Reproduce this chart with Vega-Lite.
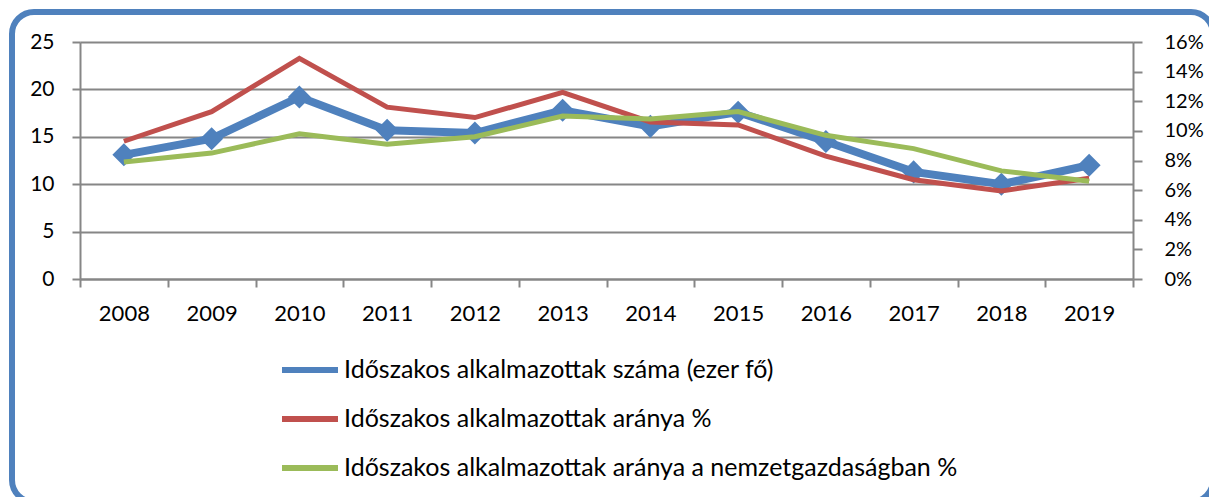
{
  "$schema": "https://vega.github.io/schema/vega-lite/v6.json",
  "width": 1201,
  "height": 490,
  "padding": {"left": 12, "top": 12, "right": 0, "bottom": 0},
  "autosize": {"type": "none"},
  "background": "white",
  "config": {
    "view": {"stroke": "#4F81BD", "strokeWidth": 6, "cornerRadius": 22, "fill": "white"},
    "font": "Lato",
    "axis": {
      "gridColor": "#868686", "gridWidth": 2, "gridOpacity": 1,
      "tickColor": "#868686", "tickWidth": 2,
      "domainColor": "#868686", "domainWidth": 2,
      "labelColor": "black", "labelFont": "Lato", "labelFontSize": 21,
      "title": null
    },
    "legend": {
      "orient": "none", "legendX": 267, "legendY": 327,
      "symbolType": "stroke", "symbolStrokeWidth": 6, "symbolSize": 3136,
      "labelFont": "Lato", "labelFontSize": 25, "labelColor": "black", "labelLimit": 0,
      "labelOffset": 3, "rowPadding": 5, "padding": 0, "title": null, "direction": "vertical"
    }
  },
  "data": {
    "values": [
      {"year": "2008", "szam": 13.1, "arany": 9.3, "nemzet": 7.9},
      {"year": "2009", "szam": 14.8, "arany": 11.3, "nemzet": 8.5},
      {"year": "2010", "szam": 19.2, "arany": 14.9, "nemzet": 9.8},
      {"year": "2011", "szam": 15.7, "arany": 11.6, "nemzet": 9.1},
      {"year": "2012", "szam": 15.4, "arany": 10.9, "nemzet": 9.6},
      {"year": "2013", "szam": 17.8, "arany": 12.6, "nemzet": 11.0},
      {"year": "2014", "szam": 16.1, "arany": 10.6, "nemzet": 10.8},
      {"year": "2015", "szam": 17.6, "arany": 10.4, "nemzet": 11.3},
      {"year": "2016", "szam": 14.5, "arany": 8.3, "nemzet": 9.7},
      {"year": "2017", "szam": 11.3, "arany": 6.7, "nemzet": 8.8},
      {"year": "2018", "szam": 10.0, "arany": 5.95, "nemzet": 7.3},
      {"year": "2019", "szam": 12.0, "arany": 6.8, "nemzet": 6.6}
    ]
  },
  "encoding": {
    "x": {
      "field": "year", "type": "ordinal",
      "scale": {"range": [68, 1121], "paddingInner": 0, "paddingOuter": 0},
      "axis": {"orient": "bottom", "offset": -223, "tickBand": "extent", "tickSize": 8, "labelAngle": 0, "labelPadding": 16, "labelFontSize": 22, "grid": false}
    }
  },
  "layer": [
    {
      "mark": {"type": "line", "strokeWidth": 8, "color": "#4F81BD"},
      "encoding": {
        "y": {"field": "szam", "type": "quantitative",
          "scale": {"domain": [0, 25], "range": [267, 30], "nice": false},
          "axis": {"orient": "left", "offset": -68, "values": [0, 5, 10, 15, 20, 25], "grid": true, "tickSize": 8, "labelPadding": 18}},
        "color": {"datum": "Időszakos alkalmazottak száma (ezer fő)", "type": "nominal",
          "scale": {"domain": ["Időszakos alkalmazottak száma (ezer fő)", "Időszakos alkalmazottak aránya %", "Időszakos alkalmazottak aránya a nemzetgazdaságban %"], "range": ["#4F81BD", "#C0504D", "#9BBB59"]}}
      }
    },
    {
      "mark": {"type": "point", "shape": "diamond", "filled": true, "size": 530, "opacity": 1, "color": "#4F81BD"},
      "encoding": {
        "y": {"field": "szam", "type": "quantitative",
          "scale": {"domain": [0, 25], "range": [267, 30], "nice": false}, "axis": null}
      }
    },
    {
      "mark": {"type": "line", "strokeWidth": 5, "color": "#C0504D"},
      "encoding": {
        "y": {"field": "arany", "type": "quantitative",
          "scale": {"domain": [0, 16], "range": [267, 30], "nice": false},
          "axis": {"orient": "right", "offset": -80, "values": [0, 2, 4, 6, 8, 10, 12, 14, 16], "labelExpr": "datum.value + '%'", "grid": false, "tickSize": 9, "labelPadding": 22, "labelFontSize": 20}},
        "color": {"datum": "Időszakos alkalmazottak aránya %", "type": "nominal"}
      }
    },
    {
      "mark": {"type": "line", "strokeWidth": 5, "color": "#9BBB59"},
      "encoding": {
        "y": {"field": "nemzet", "type": "quantitative",
          "scale": {"domain": [0, 16], "range": [267, 30], "nice": false}, "axis": null},
        "color": {"datum": "Időszakos alkalmazottak aránya a nemzetgazdaságban %", "type": "nominal"}
      }
    }
  ],
  "resolve": {"scale": {"y": "independent"}}
}
